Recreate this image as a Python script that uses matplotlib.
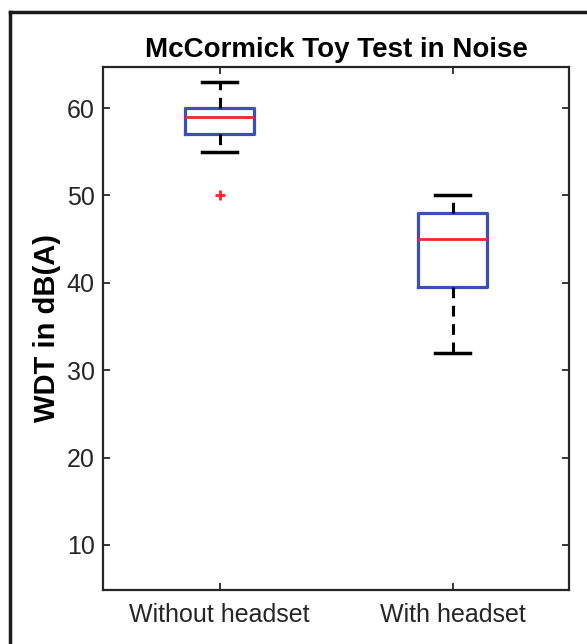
import matplotlib
matplotlib.use("Agg")
import matplotlib.pyplot as plt
from matplotlib.lines import Line2D

plt.rcParams['font.family'] = ['Liberation Sans', 'DejaVu Sans']

categories = ["Without headset", "With headset"]
q1 = [57, 39.5]
medians = [59, 45]
q3 = [60, 48]
whisk_lo = [55, 32]
whisk_hi = [63, 50]
outliers = [[50], []]
yticks = [10, 20, 30, 40, 50, 60]

stats = []
for i, c in enumerate(categories):
    stats.append(dict(label=c, q1=q1[i], med=medians[i], q3=q3[i],
                      whislo=whisk_lo[i], whishi=whisk_hi[i], fliers=outliers[i]))

fig = plt.figure(figsize=(5.87, 6.44), dpi=100)
ax = fig.add_axes([103/587, 1 - 590/644, (569-103)/587, (590-67)/644])

blue = '#3a4fb8'
ax.bxp(stats, positions=[1, 2], widths=0.3, showfliers=True,
       boxprops=dict(color=blue, linewidth=2.3),
       medianprops=dict(color='#f02828', linewidth=2),
       whiskerprops=dict(color='black', linewidth=2.2, linestyle=(0, (3.5, 2.5))),
       capprops=dict(color='black', linewidth=2.5),
       capwidths=0.15,
       flierprops=dict(marker='+', markeredgecolor='#f02828', markersize=7, markeredgewidth=2))

ax.set_xlim(0.5, 2.5)
ax.set_ylim(4.85, 64.7)
ax.set_yticks(yticks)
ax.set_xticks([1, 2])
ax.set_xticklabels(categories)
ax.tick_params(direction='in', length=5, width=1.3, top=True, right=True,
               labelsize=18, colors='#262626', pad=6)
ax.tick_params(axis='x', pad=9)
for s in ax.spines.values():
    s.set_linewidth(1.6)
    s.set_color('#262626')

ax.set_title("McCormick Toy Test in Noise", fontsize=20, fontweight='bold', pad=7)
ax.set_ylabel("WDT in dB(A)", fontsize=21, fontweight='bold', labelpad=4)

# outer frame (left and top edges)
fig.add_artist(Line2D([10/587, 10/587], [0, 1 - 12/644], transform=fig.transFigure,
                      color='#1a1a1a', linewidth=2.5))
fig.add_artist(Line2D([10/587, 1], [1 - 12/644, 1 - 12/644], transform=fig.transFigure,
                      color='#1a1a1a', linewidth=2.5))

fig.savefig("out.png", dpi=100)
